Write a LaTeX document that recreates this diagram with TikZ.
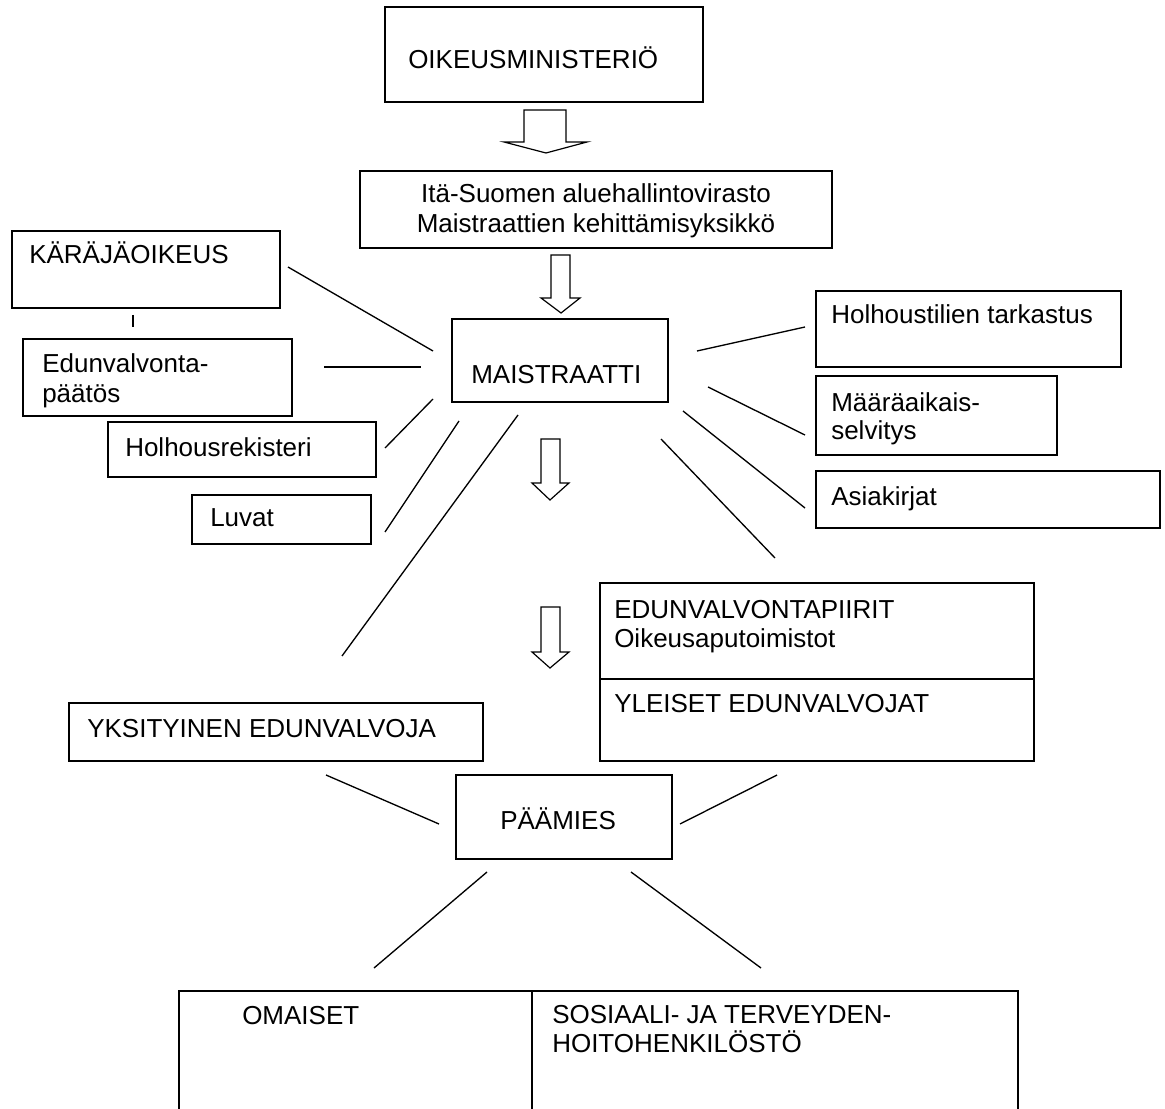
\documentclass[tikz,border=0pt]{standalone}
\usepackage{fontspec}
\setmainfont{Liberation Sans}
\usetikzlibrary{fit}

\begin{document}
\begin{tikzpicture}[x=0.75pt, y=-0.75pt,
                box/.style={rectangle, draw=black, line width=1.1pt, inner sep=0pt},
                txt/.style={anchor=base west, inner sep=0pt, align=left, font=\fontsize{19.5}{22.5}\selectfont},
                link/.style={draw=black, line width=1pt},
                hollow/.style={draw=black, fill=white, line width=0.9pt, line join=miter}]
                \path[use as bounding box] (0,0) rectangle (1165,1109);

                % boxes
                \node[box, fit={(385,7) (703,102)}] (oikeus) {};
                \node[box, fit={(360,171) (832,248)}] (ita) {};
                \node[box, fit={(12,231) (280,308)}] (kara) {};
                \node[box, fit={(23,339) (292,416)}] (paatos) {};
                \node[box, fit={(108,422) (376,477)}] (rekisteri) {};
                \node[box, fit={(192,495) (371,544)}] (luvat) {};
                \node[box, fit={(452,319) (668,402)}] (mais) {};
                \node[box, fit={(816,291) (1121,367)}] (tilit) {};
                \node[box, fit={(816,376) (1057,455)}] (maara) {};
                \node[box, fit={(816,471) (1160,528)}] (asiak) {};
                \node[box, fit={(600,583) (1034,679)}] (piirit) {};
                \node[box, fit={(600,679) (1034,761)}] (yleiset) {};
                \node[box, fit={(69,703) (483,761)}] (yksit) {};
                \node[box, fit={(456,775) (672,859)}] (paamies) {};
                \node[box, fit={(179,991) (532,1130)}] (omaiset) {};
                \node[box, fit={(532,991) (1018,1130)}] (sote) {};

                % texts (multi-line ones sit on their last baseline)
                \node[txt] (oikeusT) at (408,69) {OIKEUSMINISTERIÖ};
                \node[txt, anchor=base, align=center] (itaT) at (596,233) {Itä-Suomen aluehallintovirasto\\Maistraattien kehittämisyksikkö};
                \node[txt] (karaT) at (29,264) {KÄRÄJÄOIKEUS};
                \node[txt] (paatosT) at (42,403) {Edunvalvonta-\\päätös};
                \node[txt] (rekisteriT) at (125,456) {Holhousrekisteri};
                \node[txt] (luvatT) at (210,527) {Luvat};
                \node[txt] (maisT) at (471,384) {MAISTRAATTI};
                \node[txt] (tilitT) at (831,324) {Holhoustilien tarkastus};
                \node[txt, font=\fontsize{19.5}{21}\selectfont] (maaraT) at (831,440) {Määräaikais-\\selvitys};
                \node[txt] (asiakT) at (831,506) {Asiakirjat};
                \node[txt, font=\fontsize{19.5}{21.75}\selectfont] (piiritT) at (614,647) {EDUNVALVONTAPIIRIT\\Oikeusaputoimistot};
                \node[txt] (yleisetT) at (614,712) {YLEISET EDUNVALVOJAT};
                \node[txt] (yksitT) at (87,737) {YKSITYINEN EDUNVALVOJA};
                \node[txt] (paamiesT) at (500,829) {PÄÄMIES};
                \node[txt] (omaisetT) at (242,1024) {OMAISET};
                \node[txt, font=\fontsize{19.5}{21.75}\selectfont] (soteT) at (552,1052) {SOSIAALI- JA TERVEYDEN-\\HOITOHENKILÖSTÖ};

                % hollow arrows
                \draw[hollow] (524,110) -- (566,110) -- (566,142) -- (587,142) -- (546,153) -- (504,142) -- (524,142) -- cycle;
                \draw[hollow] (551,255) -- (570,255) -- (570,298) -- (580,298) -- (561,313) -- (541,298) -- (551,298) -- cycle;
                \draw[hollow] (541,439) -- (560,439) -- (560,483) -- (569,483) -- (550,500) -- (532,483) -- (541,483) -- cycle;
                \draw[hollow] (541,607) -- (560,607) -- (560,652) -- (569,652) -- (550,668) -- (532,652) -- (541,652) -- cycle;

                % line ends
                \coordinate (k1) at (288,267);  \coordinate (k2) at (433,351);
                \coordinate (t1) at (133,315);  \coordinate (t2) at (133,327);
                \coordinate (e1) at (324,367);  \coordinate (e2) at (421,367);
                \coordinate (h1) at (385,448);  \coordinate (h2) at (433,399);
                \coordinate (l1) at (385,532);  \coordinate (l2) at (459,421);
                \coordinate (y1) at (518,415);  \coordinate (y2) at (342,656);
                \coordinate (r1) at (697,351);  \coordinate (r2) at (805,327);
                \coordinate (m1) at (708,387);  \coordinate (m2) at (805,435);
                \coordinate (a1) at (683,411);  \coordinate (a2) at (805,508);
                \coordinate (p1) at (661,439);  \coordinate (p2) at (775,558);
                \coordinate (q1) at (326,775);  \coordinate (q2) at (439,824);
                \coordinate (g1) at (777,775);  \coordinate (g2) at (680,824);
                \coordinate (o1) at (487,872);  \coordinate (o2) at (374,968);
                \coordinate (s1) at (631,872);  \coordinate (s2) at (761,968);

                \draw[link] (k1) -- (k2);
                \draw[link] (t1) -- (t2);
                \draw[link] (e1) -- (e2);
                \draw[link] (h1) -- (h2);
                \draw[link] (l1) -- (l2);
                \draw[link] (y1) -- (y2);
                \draw[link] (r1) -- (r2);
                \draw[link] (m1) -- (m2);
                \draw[link] (a1) -- (a2);
                \draw[link] (p1) -- (p2);
                \draw[link] (q1) -- (q2);
                \draw[link] (g1) -- (g2);
                \draw[link] (o1) -- (o2);
                \draw[link] (s1) -- (s2);
\end{tikzpicture}
\end{document}
